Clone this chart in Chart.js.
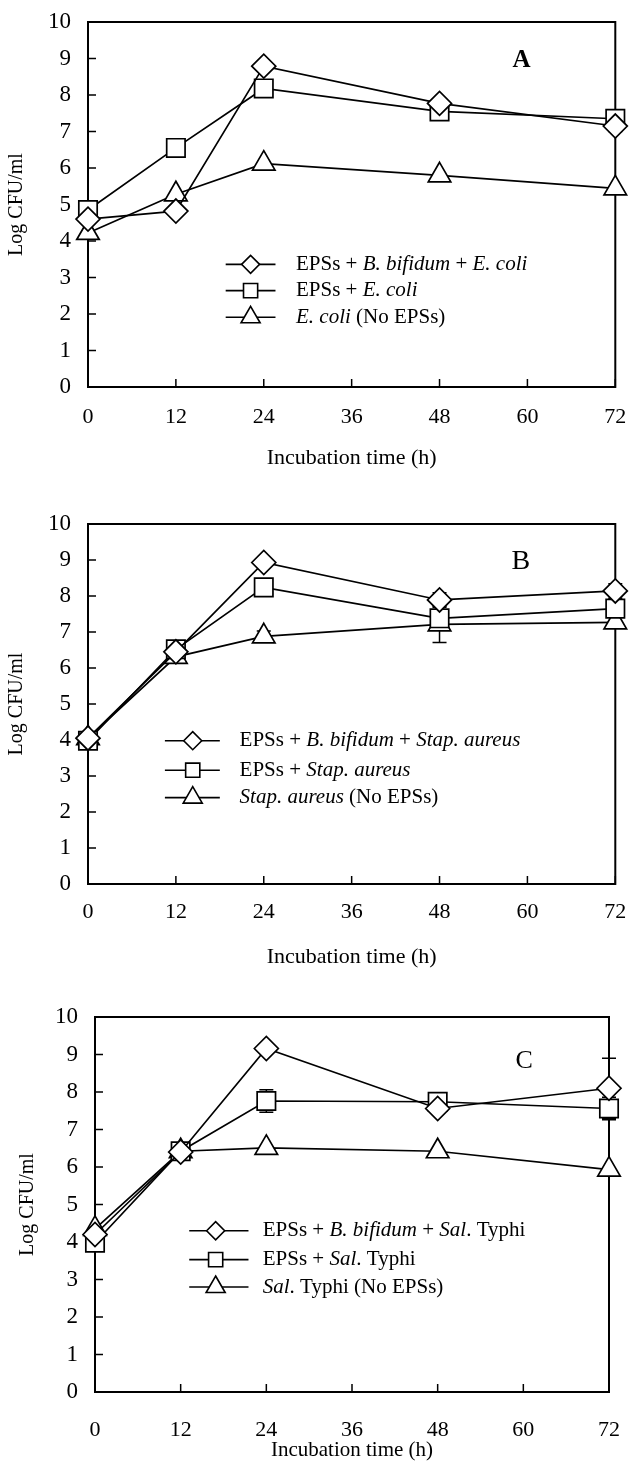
<!DOCTYPE html>
<html>
<head>
<meta charset="utf-8">
<script src="https://cdn.jsdelivr.net/npm/chart.js@4.4.0/dist/chart.umd.min.js"></script>
<style>
  html, body { margin: 0; padding: 0; background: #fff; overflow: hidden; }
  .panel { position: absolute; left: 0; width: 630px; }
  canvas { display: block; }
</style>
</head>
<body>
<div class="panel" style="top:0;height:480px"><canvas id="chartA"></canvas></div>
<div class="panel" style="top:480px;height:500px"><canvas id="chartB"></canvas></div>
<div class="panel" style="top:980px;height:481px"><canvas id="chartC"></canvas></div>
<script>
// valeurs
var hours = [0, 12, 24, 48, 72];
var xTicks = [0, 12, 24, 36, 48, 60, 72];
var yTicks = [0, 1, 2, 3, 4, 5, 6, 7, 8, 9, 10];

// A : E. coli
var aDiamond  = [4.60, 4.82, 8.79, 7.77, 7.15];
var aSquare   = [4.85, 6.55, 8.18, 7.55, 7.35];
var aTriangle = [4.22, 5.28, 6.12, 5.80, 5.44];
var aDiamondErr  = [0, 0, 0, 0.10, 0.15];
var aSquareErr   = [0, 0, 0, 0, 0];
var aTriangleErr = [0, 0, 0, 0, 0];

// B : Stap. aureus
var bDiamond  = [4.05, 6.45, 8.93, 7.89, 8.14];
var bSquare   = [3.98, 6.52, 8.24, 7.38, 7.65];
var bTriangle = [4.05, 6.31, 6.88, 7.21, 7.27];
var bDiamondErr  = [0, 0, 0, 0.20, 0.20];
var bSquareErr   = [0, 0, 0, 0, 0];
var bTriangleErr = [0, 0, 0.15, 0.50, 0];

// C : Sal. Typhi
var cDiamond  = [4.20, 6.40, 9.16, 7.56, 8.10];
var cSquare   = [3.98, 6.42, 7.76, 7.74, 7.56];
var cTriangle = [4.35, 6.42, 6.51, 6.42, 5.93];
var cDiamondErr  = [0, 0, 0, 0, 0.80];
var cSquareErr   = [0, 0, 0.30, 0, 0.30];
var cTriangleErr = [0, 0, 0, 0, 0];

var legendA = [
  [["EPSs + ", 0], ["B. bifidum", 1], [" + ", 0], ["E. coli", 1]],
  [["EPSs + ", 0], ["E. coli", 1]],
  [["E. coli", 1], [" (No EPSs)", 0]]
];
var legendB = [
  [["EPSs + ", 0], ["B. bifidum", 1], [" + ", 0], ["Stap. aureus", 1]],
  [["EPSs + ", 0], ["Stap. aureus", 1]],
  [["Stap. aureus", 1], [" (No EPSs)", 0]]
];
var legendC = [
  [["EPSs + ", 0], ["B. bifidum", 1], [" + ", 0], ["Sal", 1], [". Typhi", 0]],
  [["EPSs + ", 0], ["Sal", 1], [". Typhi", 0]],
  [["Sal", 1], [". Typhi (No EPSs)", 0]]
];

var serif = '"Liberation Serif", "Times New Roman", serif';
var styles = ['rectRot', 'rect', 'triangle'];
var radii = [12, 13, 13];
var legendRadii = [9, 10, 11];

function pts(vals) {
  return vals.map(function (v, i) { return { x: hours[i], y: v }; });
}

// cadre, petites graduations vers l'intérieur, barres d'erreur
var framePlugin = {
  id: 'frame',
  beforeDatasetsDraw: function (chart) {
    var ctx = chart.ctx, a = chart.chartArea;
    var xs = chart.scales.x, ys = chart.scales.y;
    ctx.save();
    ctx.strokeStyle = '#000';
    ctx.lineWidth = 2;
    ctx.strokeRect(a.left, a.top, a.right - a.left, a.bottom - a.top);
    ctx.lineWidth = 1.5;
    ctx.beginPath();
    yTicks.forEach(function (v) {
      var y = ys.getPixelForValue(v);
      ctx.moveTo(a.left, y); ctx.lineTo(a.left + 8, y);
    });
    xTicks.forEach(function (v) {
      var x = xs.getPixelForValue(v);
      ctx.moveTo(x, a.bottom); ctx.lineTo(x, a.bottom - 8);
    });
    ctx.stroke();
    chart.data.datasets.forEach(function (ds) {
      ds.err.forEach(function (e, i) {
        if (!e) return;
        var x = xs.getPixelForValue(ds.data[i].x);
        var y1 = ys.getPixelForValue(ds.data[i].y - e);
        var y2 = ys.getPixelForValue(ds.data[i].y + e);
        ctx.beginPath();
        ctx.moveTo(x, y1); ctx.lineTo(x, y2);
        ctx.moveTo(x - 7, y1); ctx.lineTo(x + 7, y1);
        ctx.moveTo(x - 7, y2); ctx.lineTo(x + 7, y2);
        ctx.stroke();
      });
    });
    ctx.restore();
  },
  afterDatasetsDraw: function (chart, args, opts) {
    var ctx = chart.ctx;
    var xs = chart.scales.x, ys = chart.scales.y;
    ctx.save();
    // lettre du panneau
    ctx.fillStyle = '#000';
    ctx.font = opts.letterFont;
    ctx.textAlign = 'center';
    ctx.textBaseline = 'middle';
    ctx.fillText(opts.letter, xs.getPixelForValue(opts.letterX), ys.getPixelForValue(opts.letterY));
    // légende
    ctx.textAlign = 'left';
    opts.rows.forEach(function (row, r) {
      var y = ys.getPixelForValue(opts.rowY[r]);
      var x1 = xs.getPixelForValue(opts.lineX[0]);
      var x2 = xs.getPixelForValue(opts.lineX[1]);
      ctx.strokeStyle = '#000';
      ctx.lineWidth = 1.6;
      ctx.beginPath();
      ctx.moveTo(x1, y); ctx.lineTo(x2, y);
      ctx.stroke();
      ctx.fillStyle = '#fff';
      Chart.helpers.drawPoint(ctx, {
        pointStyle: styles[r], radius: legendRadii[r], borderWidth: 1.6, rotation: 0
      }, xs.getPixelForValue(opts.markX), y);
      var tx = xs.getPixelForValue(opts.textX);
      ctx.fillStyle = '#000';
      row.forEach(function (seg) {
        ctx.font = (seg[1] ? 'italic ' : '') + '21px ' + serif;
        ctx.fillText(seg[0], tx, y);
        tx += ctx.measureText(seg[0]).width;
      });
    });
    ctx.restore();
  }
};

function makePanel(id, series, errs, lay, extras) {
  var datasets = series.map(function (vals, k) {
    return {
      data: pts(vals),
      err: errs[k],
      borderColor: '#000',
      borderWidth: 1.7,
      pointStyle: styles[k],
      pointRadius: radii[k],
      pointHoverRadius: radii[k],
      pointBackgroundColor: '#fff',
      pointBorderColor: '#000',
      pointBorderWidth: 1.7,
      tension: 0,
      clip: false
    };
  });
  new Chart(document.getElementById(id), {
    type: 'line',
    data: { datasets: datasets },
    plugins: [framePlugin],
    options: {
      responsive: true,
      maintainAspectRatio: false,
      animation: false,
      events: [],
      layout: { padding: { top: lay.padTop, right: lay.padRight, left: 0, bottom: 0 } },
      plugins: { legend: { display: false }, tooltip: { enabled: false }, frame: extras },
      scales: {
        x: {
          type: 'linear', min: 0, max: 72,
          afterBuildTicks: function (s) { s.ticks = xTicks.map(function (v) { return { value: v }; }); },
          afterFit: function (s) { s.height = lay.xH; s.paddingLeft = 0; s.paddingRight = 0; },
          grid: { display: false, drawTicks: false },
          border: { display: false },
          ticks: { color: '#000', padding: lay.xTickPad, font: { family: serif, size: 22 } },
          title: {
            display: true, text: 'Incubation time (h)', color: '#000',
            font: { family: serif, size: lay.xTitleSize, lineHeight: lay.xTitleLH },
            padding: { top: 0, bottom: lay.xTitlePB }
          }
        },
        y: {
          min: 0, max: 10,
          afterBuildTicks: function (s) { s.ticks = yTicks.map(function (v) { return { value: v }; }); },
          afterFit: function (s) { s.width = lay.yW; s.paddingTop = 0; s.paddingBottom = 0; },
          grid: { display: false, drawTicks: false },
          border: { display: false },
          ticks: { color: '#000', padding: 17, font: { family: serif, size: 23 } },
          title: {
            display: true, text: 'Log CFU/ml', color: '#000',
            font: { family: serif, size: 20 },
            padding: { top: lay.yTitlePT, bottom: 0 }
          }
        }
      }
    }
  });
}

makePanel('chartA', [aDiamond, aSquare, aTriangle], [aDiamondErr, aSquareErr, aTriangleErr],
  { padTop: 22, padRight: 12, yW: 88, xH: 93, xTickPad: 17, xTitleSize: 22, xTitleLH: 1.2, xTitlePB: 8.8, yTitlePT: 5 },
  { letter: 'A', letterFont: 'bold 25px ' + serif, letterX: 59.2, letterY: 8.95,
    rows: legendA, rowY: [3.36, 2.64, 1.91], lineX: [18.8, 25.6], markX: 22.2, textX: 28.4 });

makePanel('chartB', [bDiamond, bSquare, bTriangle], [bDiamondErr, bSquareErr, bTriangleErr],
  { padTop: 44, padRight: 12, yW: 88, xH: 96, xTickPad: 15, xTitleSize: 22, xTitleLH: 1.2, xTitlePB: 9.8, yTitlePT: 5 },
  { letter: 'B', letterFont: '28px ' + serif, letterX: 59.1, letterY: 8.96,
    rows: legendB, rowY: [3.98, 3.16, 2.40], lineX: [10.5, 18.0], markX: 14.3, textX: 20.7 });

makePanel('chartC', [cDiamond, cSquare, cTriangle], [cDiamondErr, cSquareErr, cTriangleErr],
  { padTop: 37, padRight: 21, yW: 95, xH: 69, xTickPad: 25, xTitleSize: 21, xTitleLH: 1.0, xTitlePB: 0, yTitlePT: 16 },
  { letter: 'C', letterFont: '26px ' + serif, letterX: 60.1, letterY: 8.82,
    rows: legendC, rowY: [4.30, 3.53, 2.80], lineX: [13.2, 21.5], markX: 16.9, textX: 23.5 });
</script>
</body>
</html>
